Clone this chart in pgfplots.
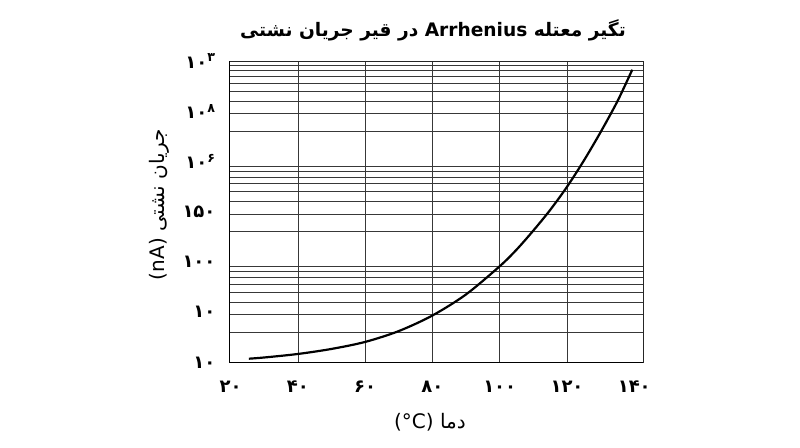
\documentclass[border=0pt]{standalone}
\usepackage{fontspec}
\setmainfont{DejaVu Sans}
\newfontfamily\fa[Script=Arabic]{DejaVu Sans}
\usepackage{pgfplots}
\pgfplotsset{compat=1.18}
\TeXXeTstate=1

\begin{document}
\begin{tikzpicture}
\useasboundingbox (0pt,0pt) rectangle (800pt,447pt);
\begin{axis}[
    at={(229pt,84.5pt)}, anchor=south west,
    scale only axis,
    width=414pt, height=301.5pt,
    xmin=19.5, xmax=142.6,
    ymode=log, ymin=1, ymax=1000,
    xtick={20,40,60,80,100,120,140},
    xticklabels={۲۰,۴۰,۶۰,۸۰,۱۰۰,۱۲۰,۱۴۰},
    minor xtick={40,60,80,100,120},
    xminorgrids=true,
    ytick={1,3.1623,10,31.623,100,316.23,1000},
    yticklabels={۱۰,۱۰,۱۰۰,۱۵۰,۱۰\textsuperscript{۶},۱۰\textsuperscript{۸},۱۰\textsuperscript{۳}},
    minor ytick={2,3,4,5,6,7,8,9,20,30,40,50,60,70,80,90,200,300,400,500,600,700,800,900},
    yminorgrids=true,
    major tick length=0pt, minor tick length=0pt,
    axis line style={line width=0.8pt, black!85},
    minor grid style={black!78, line width=0.7pt},
    ticklabel style={font=\fa\fontsize{18}{20}\selectfont\bfseries},
    xticklabel style={yshift=-15pt},
    yticklabel style={xshift=-10pt},
    every axis x label/.style={at={(axis description cs:0.5,0)}, xshift=-6pt, yshift=-60pt, anchor=center},
    every axis y label/.style={at={(axis description cs:0,0.5)}, xshift=-70pt, yshift=7pt, rotate=90, anchor=center},
    label style={font=\fa\fontsize{20}{24}\selectfont},
    xlabel={\beginR دما \beginL(°C)\endL\endR},
    ylabel={\beginR جریان نشتی \beginL(nA)\endL\endR},
]
\draw[line width=1.8pt, black] (rel axis cs:0,1) -- (rel axis cs:0,0) -- (rel axis cs:1,0);
\addplot[black, line width=2.2pt, smooth] coordinates {
    (25.4,1.091) (30,1.122) (40,1.216) (50,1.365) (60,1.603) (70,2.056)
    (80,2.938) (90,4.764) (100,9.078) (105,13.27) (110,20.56) (115,32.96)
    (120,55.98) (125,101.9) (130,196.3) (135,398) (139.4,818.5)
};
\end{axis}
\node at (433pt,417pt) {\fa\fontsize{18.6}{23}\selectfont\bfseries \beginR تگیر معتله \beginL Arrhenius\endL{} در قیر جریان نشتی\endR};
\end{tikzpicture}
\end{document}
